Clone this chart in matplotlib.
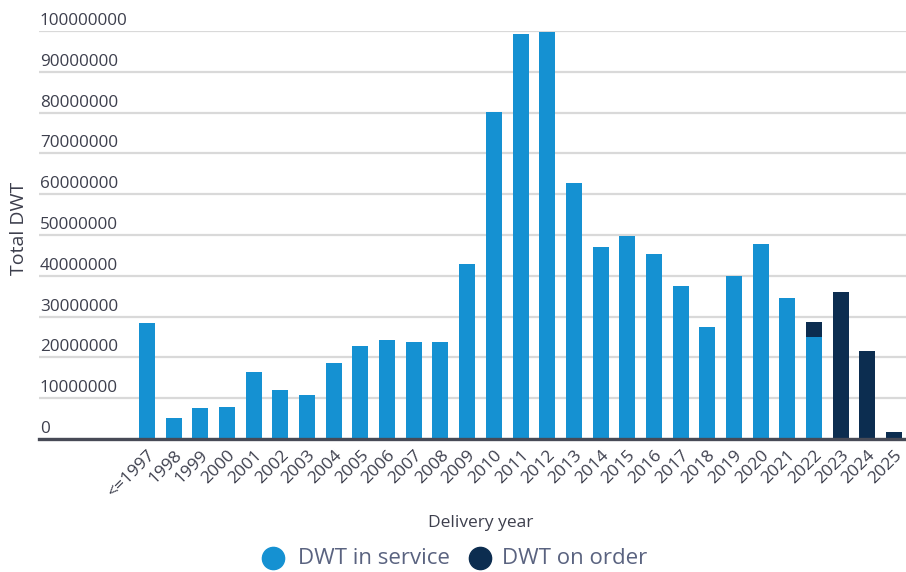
import matplotlib
matplotlib.use("Agg")
import matplotlib.pyplot as plt
import matplotlib.transforms as mtransforms
from matplotlib.lines import Line2D

years = ["<=1997", "1998", "1999", "2000", "2001", "2002", "2003", "2004", "2005",
         "2006", "2007", "2008", "2009", "2010", "2011", "2012", "2013", "2014",
         "2015", "2016", "2017", "2018", "2019", "2020", "2021", "2022", "2023",
         "2024", "2025"]
in_service = [28.5e6, 5.2e6, 7.7e6, 7.9e6, 16.4e6, 11.9e6, 10.8e6, 18.6e6, 22.8e6,
              24.3e6, 23.8e6, 23.8e6, 42.9e6, 80.2e6, 99.3e6, 99.8e6, 62.8e6, 47.1e6,
              49.8e6, 45.4e6, 37.5e6, 27.5e6, 40.0e6, 47.8e6, 34.6e6, 25.0e6, 0, 0, 0]
on_order = [0]*25 + [3.7e6, 36.1e6, 21.6e6, 1.7e6]
y_ticks = [0, 10e6, 20e6, 30e6, 40e6, 50e6, 60e6, 70e6, 80e6, 90e6, 100e6]
series_names = ["DWT in service", "DWT on order"]

BLUE = "#1591d2"
NAVY = "#0c2d50"
TXT = "#3d3f4d"
LEG = "#5a6380"

plt.rcParams['font.family'] = ['Open Sans', 'DejaVu Sans']

W, H = 906, 572
fig = plt.figure(figsize=(W/100, H/100), dpi=100)
ax = fig.add_axes([39/W, (H-439)/H, (906-39)/W, 408/H])

x = list(range(len(years)))
ax.bar(x, in_service, width=0.6, color=BLUE, zorder=3)
ax.bar(x, on_order, width=0.6, bottom=in_service, color=NAVY, zorder=3)

ax.set_xlim(-4.05, 28.45)
ax.set_ylim(0, 100e6)

for s in ["top", "right", "left"]:
    ax.spines[s].set_visible(False)
ax.spines["bottom"].set_color("#474a56")
ax.spines["bottom"].set_linewidth(2.4)
ax.spines["bottom"].set_zorder(4)

ax.set_yticks(y_ticks)
ax.set_yticklabels([])
ax.tick_params(axis='y', length=0)
ax.grid(axis='y', color="#d9d9d9", linewidth=1.6, zorder=0)

trans = mtransforms.blended_transform_factory(ax.transAxes, ax.transData)
for v in y_ticks:
    ax.annotate(f"{int(v)}", xy=(0.001, v), xycoords=trans, xytext=(0, 1.5),
                textcoords="offset points", ha="left", va="bottom",
                fontsize=12.3, color=TXT)

ax.set_xticks(x)
ax.set_xticklabels(years, rotation=45, ha="right", rotation_mode="anchor",
                   fontsize=12.5, color=TXT)
ax.tick_params(axis='x', length=0, pad=6)

fig.text(481/W, 1 - 523/H, "Delivery year", ha="center", va="center",
         fontsize=12.5, color=TXT)
fig.text(19/W, 1 - 228/H, "Total DWT", ha="center", va="center",
         rotation=90, fontsize=14, color=TXT)

# legend drawn manually
LY = 558
for cx, tx, col, name in [(273, 298, BLUE, series_names[0]),
                          (480, 502, NAVY, series_names[1])]:
    fig.add_artist(Line2D([cx/W], [1 - LY/H], marker='o', linestyle='',
                          markersize=16, color=col, transform=fig.transFigure))
    fig.text(tx/W, 1 - LY/H, name, ha="left", va="center",
             fontsize=16, color=LEG)

fig.savefig("out.png", dpi=100)
